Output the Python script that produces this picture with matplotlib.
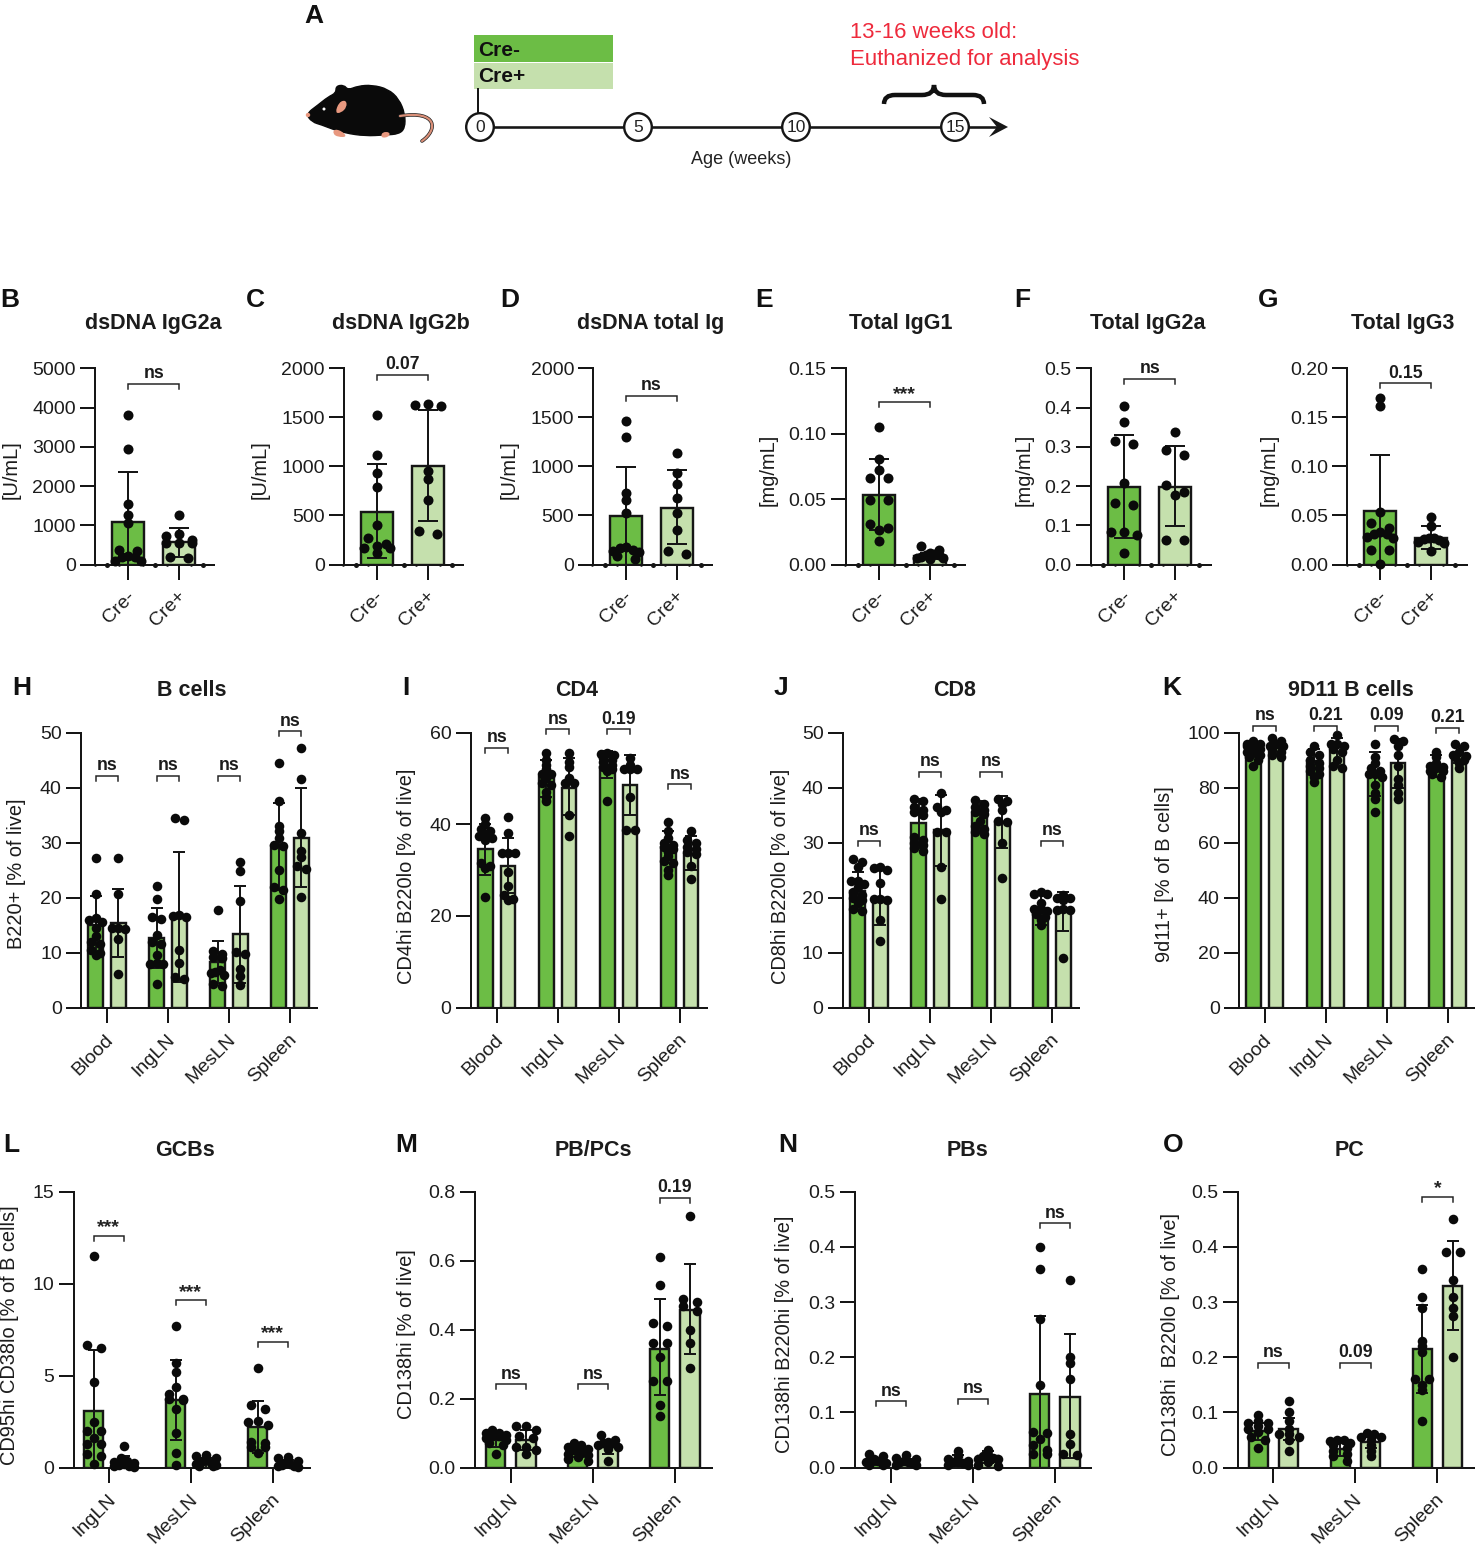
import matplotlib
matplotlib.use("Agg")
import matplotlib.pyplot as plt
from matplotlib.path import Path
from matplotlib.patches import PathPatch, Rectangle, Circle, Polygon
from matplotlib.transforms import ScaledTranslation

plt.rcParams['font.family'] = ['Liberation Sans', 'DejaVu Sans']
W, H = 1475, 1545
DARK, LIGHT, INK = '#6CBD45', '#C5E0AD', '#161616'

# ---------- data ----------
cre = ['Cre-', 'Cre+']
four = ['Blood', 'IngLN', 'MesLN', 'Spleen']
three = ['IngLN', 'MesLN', 'Spleen']

B_mean = [1080, 570]; B_hi = [2350, 930]; B_lo = [0, 200]
B_pts = [[3800, 2950, 1550, 1250, 1050, 380, 350, 210, 190, 180, 90, 80],
         [1250, 770, 720, 620, 540, 540, 540, 180, 170]]
C_mean = [540, 1000]; C_hi = [1020, 1570]; C_lo = [65, 440]
C_pts = [[1520, 1120, 930, 790, 400, 270, 210, 190, 170, 170, 120],
         [1640, 1630, 1620, 950, 870, 660, 340, 310]]
D_mean = [495, 580]; D_hi = [995, 960]; D_lo = [0, 210]
D_pts = [[1460, 1300, 730, 660, 530, 180, 170, 150, 140, 130, 90, 60],
         [1140, 930, 820, 680, 520, 350, 140, 110]]
E_mean = [.053, .0065]; E_hi = [.081, .009]; E_lo = [.026, .004]
E_pts = [[.105, .081, .072, .066, .066, .049, .049, .031, .028, .026, .018],
         [.014, .011, .009, .008, .007, .007, .006, .005, .005, .004]]
F_mean = [.198, .198]; F_hi = [.33, .302]; F_lo = [.067, .098]
F_pts = [[.405, .363, .316, .308, .207, .158, .152, .083, .083, .075, .03],
         [.338, .292, .279, .202, .186, .176, .062, .062]]
G_mean = [.055, .027]; G_hi = [.112, .039]; G_lo = [0, .016]
G_pts = [[.17, .162, .054, .042, .037, .033, .031, .031, .028, .027, .015, .015, .001],
         [.048, .039, .027, .027, .026, .025, .023, .022, .014]]

H_mean = [15, 15.4, 12.7, 16.4, 8.3, 13.3, 29.3, 30.9]
H_hi = [20.3, 21.6, 18.2, 28.3, 12.1, 22.2, 37.2, 40]
H_lo = [9.7, 9.3, 7.3, 4.6, 4.5, 4.4, 21.3, 21.9]
H_pts = [[27.2, 20.6, 16.3, 16, 15.5, 14.5, 13, 12, 11.5, 10.5, 10, 9.5],
         [27.2, 20.6, 14.5, 14.5, 14.3, 12.4, 6.2],
         [22.2, 19.8, 16.4, 16.1, 13.2, 12, 11.5, 9.5, 8.2, 8, 8, 4.3],
         [34.5, 34.1, 16.9, 16.6, 16.5, 10.4, 8.1, 5.5, 5.3],
         [17.7, 10.3, 9.8, 9.3, 9, 6.8, 6.5, 6.3, 6, 4.3, 4],
         [26.4, 24.9, 19.3, 10.2, 9.7, 7, 5.7, 4.1],
         [44.4, 37.6, 33, 32.1, 30.8, 29.6, 29.3, 25, 22, 21.3, 19.7],
         [47.1, 41.6, 31.8, 28.4, 27.4, 25.8, 25.2, 20.1]]
I_mean = [34.7, 31, 50.2, 48, 52.5, 48.5, 35, 33.5]
I_hi = [40, 37, 54, 54.5, 56, 55, 38.5, 37.5]
I_lo = [29, 25, 46, 42, 50, 42, 31.5, 30]
I_pts = [[41.3, 40, 39, 38.5, 37.8, 37.5, 37, 36.5, 31.5, 31, 30.5, 24.2],
         [41.5, 38, 33.8, 33.8, 33.8, 29.5, 26.6, 24.6, 23.8, 23.5],
         [55.5, 54, 53, 52, 51, 51, 50, 49, 48.5, 47, 46, 45],
         [55.5, 53.5, 52.5, 50, 49, 49, 42, 37.5],
         [55.5, 55.3, 55, 54.5, 54, 53.5, 53, 52.5, 52, 51.5, 45],
         [54.5, 53, 52, 52, 52, 46, 38.7, 38.7],
         [40.5, 38.5, 37, 36, 35.5, 35, 34.5, 34, 33, 32, 31.5, 30, 29],
         [38.5, 36.5, 36, 35, 34.5, 34, 33.5, 31, 28]]
J_mean = [21.2, 20, 33.6, 32.2, 35, 33.7, 18, 17.7]
J_hi = [24.7, 25, 38, 38.7, 37.5, 38.5, 20.8, 21]
J_lo = [17.5, 15, 29, 25.7, 32, 29, 15, 14]
J_pts = [[27, 26.5, 25.5, 23, 23, 22.5, 22, 21, 20.5, 20, 19.5, 19, 18, 17.5],
         [25.5, 25.3, 25, 22.7, 19.8, 19.7, 19.5, 16, 12.1],
         [38, 37.5, 36.5, 36, 35.5, 35, 31, 30.5, 30, 29.5, 29, 28.5],
         [39, 36.5, 36, 35.5, 32, 32, 25.5, 19.8],
         [37.8, 37, 36.5, 36, 35.5, 35.2, 34, 33, 32.5, 32, 31.5],
         [38, 37.5, 37, 36, 34, 33.7, 30, 23.5],
         [21, 20.7, 20.6, 19, 18, 18, 17.5, 17, 16.5, 16, 15],
         [20.5, 20, 20, 19.5, 18, 17.8, 17.7, 9]]
K_mean = [93.8, 94.8, 89.5, 93, 84.5, 89, 87.6, 92]
K_hi = [96, 97, 94, 98, 93, 97.5, 92, 95]
K_lo = [91, 92, 85, 88, 77, 80, 84, 89]
K_pts = [[97, 96, 96, 95, 95, 94, 93, 93, 92, 91, 90, 88],
         [98, 97, 96, 96, 95, 95, 94, 93, 92, 91],
         [95, 93, 92, 90, 89, 88, 87, 86, 85, 84, 82],
         [99, 96, 96, 95, 94, 93, 90, 88, 87],
         [96, 91, 89, 87, 86, 85, 85, 84, 81, 78, 76, 71],
         [97.5, 97, 95, 92, 88, 83, 81, 78, 76],
         [93, 91, 89, 88, 87.5, 87, 86, 86, 85, 84],
         [96, 95, 93, 92, 91.5, 91, 90, 89, 87]]

L_mean = [3.05, .25, 3.65, .25, 2.2, .2]
L_hi = [6.4, .65, 5.85, .5, 3.6, .4]
L_lo = [0, 0, 1.5, 0, .8, 0]
L_pts = [[11.5, 6.65, 6.5, 4.65, 2.45, 2, 2, 1.6, 1.3, 1.3, .75, .65, .2],
         [1.15, .5, .35, .3, .25, .2, .15, .1, .08, .05],
         [7.7, 5.7, 5.2, 4.4, 4, 3.75, 3.7, 3.65, 3.2, 1.9, .8, .15],
         [.7, .65, .5, .4, .3, .25, .2, .15, .1, .1],
         [5.4, 3.4, 3.2, 2.55, 2.5, 2.3, 1.4, 1.35, 1.1, 1.1, .8],
         [.55, .5, .35, .25, .2, .15, .1, .1, .05]]
M_mean = [.08, .08, .045, .06, .345, .457]
M_hi = [.1, .11, .06, .08, .49, .59]
M_lo = [.06, .05, .03, .04, .21, .33]
M_pts = [[.11, .1, .1, .095, .09, .09, .085, .08, .07, .065, .04],
         [.12, .12, .11, .09, .085, .06, .06, .05, .04],
         [.07, .065, .06, .055, .05, .05, .045, .04, .035, .03, .025, .02],
         [.095, .08, .075, .07, .07, .065, .06, .055, .02],
         [.61, .53, .42, .41, .36, .36, .32, .25, .25, .18, .15],
         [.73, .49, .48, .47, .455, .40, .36, .29]]
N_mean = [.01, .01, .012, .02, .133, .128]
N_hi = [.017, .016, .022, .03, .275, .243]
N_lo = [.004, .004, .003, .008, 0, .017]
N_pts = [[.025, .02, .015, .012, .01, .01, .01, .008, .005, .005],
         [.022, .018, .015, .012, .01, .01, .008, .005, .005],
         [.03, .02, .015, .012, .01, .01, .008, .005, .005],
         [.032, .022, .02, .018, .015, .015, .01, .005, .002],
         [.4, .36, .27, .15, .065, .062, .052, .04, .032, .025, .025],
         [.34, .2, .19, .16, .06, .043, .022, .024]]
O_mean = [.067, .07, .033, .047, .215, .33]
O_hi = [.08, .09, .047, .06, .295, .41]
O_lo = [.05, .05, .02, .035, .135, .25]
O_pts = [[.095, .085, .08, .08, .075, .07, .07, .065, .055, .05, .035],
         [.12, .1, .085, .07, .06, .06, .055, .05, .03],
         [.05, .05, .048, .045, .04, .035, .03, .025, .02, .012],
         [.062, .06, .056, .055, .05, .04, .03, .02],
         [.36, .31, .29, .23, .22, .21, .16, .16, .15, .14, .085],
         [.45, .39, .39, .34, .31, .29, .275, .2]]

edge_minor = [-.66, -.18, .29, .76, 1.23]
edge_major = [-.42, .52, 1.47]

fig = plt.figure(figsize=(W / 100, H / 100), dpi=100)
bg = fig.add_axes([0, 0, 1, 1], zorder=0)
bg.set_xlim(0, W); bg.set_ylim(H, 0); bg.axis('off')

PT = 0.72          # points per pixel
LW = 2.0 * PT


def swarm(vals, ppy, maxoff, binh):
    """Prism-style spread: values in one height bin fan out symmetrically (pixels)."""
    out, bin_vals = [], []

    def flush():
        n = len(bin_vals)
        if n == 1:
            offs = [0]
        elif n == 2:
            offs = [-.7 * maxoff, .7 * maxoff]
        else:
            step = 2 * maxoff / (n - 1)
            offs = [-maxoff + j * step for j in range(n)]
            offs = sorted(offs, key=abs)
        for o, v in zip(offs, bin_vals):
            out.append((o, v))

    for v in sorted(vals, reverse=True):
        if bin_vals and (bin_vals[0] - v) * ppy > binh:
            flush()
            bin_vals = []
        bin_vals.append(v)
    flush()
    return out


def yticks_fmt(t):
    strs = [('%g' % v) for v in t]
    dec = max((len(s.split('.')[1]) if '.' in s else 0) for s in strs)
    return ['%.*f' % (dec, v) for v in t]


def panel(L, R, y0, ytop, c0, gap, half, bw, cats, means, his, los, pts, ymax, yticks,
          sig, sig_y, edge=False, maxoff=12, binh=6.5, capw=16, dot=9.0):
    ax = fig.add_axes([L / W, 1 - y0 / H, (R - L) / W, (y0 - ytop) / H], zorder=2)
    ax.patch.set_alpha(0)
    ax.set_xlim((L - c0) / gap, (R - c0) / gap)
    ax.set_ylim(0, ymax)
    ppy = (y0 - ytop) / ymax
    for s in ('top', 'right'):
        ax.spines[s].set_visible(False)
    for s in ('left', 'bottom'):
        ax.spines[s].set_linewidth(LW); ax.spines[s].set_color(INK); ax.spines[s].set_zorder(2.2)
    ax.set_yticks(yticks); ax.set_yticklabels(yticks_fmt(yticks), fontsize=14, color='#1c1c1c')
    ax.tick_params(axis='y', length=15 * PT, width=LW, color=INK, pad=3)
    ax.set_xticks(range(len(cats)))
    ax.set_xticklabels(cats, fontsize=14, rotation=45, ha='right', rotation_mode='anchor', color='#1c1c1c')
    ax.tick_params(axis='x', length=15 * PT, width=LW, color=INK, pad=6)
    shift = ScaledTranslation(-2 / 100, 0, fig.dpi_scale_trans)
    for lab in ax.get_xticklabels():
        lab.set_transform(lab.get_transform() + shift)
    for i, (m, hi, lo, p) in enumerate(zip(means, his, los, pts)):
        if half:
            g, k = divmod(i, 2)
            x = g + (k - .5) * 2 * half / gap
        else:
            k = i
            x = float(i)
        ax.bar(x, m, bw / gap, color=DARK if k == 0 else LIGHT, edgecolor=INK, linewidth=2.4 * PT, zorder=2)
        ax.errorbar(x, m, yerr=[[m - lo], [hi - m]], color=INK, lw=LW, capsize=capw / 2 * PT,
                    capthick=LW, zorder=3, clip_on=False)
        sw = swarm(p, ppy, maxoff, binh)
        ax.scatter([x + a / gap for a, _ in sw], [b for _, b in sw], s=(dot * PT) ** 2, color='#0a0a0a',
                   linewidths=0, zorder=4, clip_on=False)
    for g, (t, ys) in enumerate(zip(sig, sig_y)):
        if half:
            x1, x2 = g - half / gap, g + half / gap
        else:
            x1, x2 = 0, 1
        drop = 5 / ppy
        ax.plot([x1, x1, x2, x2], [ys - drop, ys, ys, ys - drop], color='#222222', lw=1.5 * PT,
                clip_on=False, zorder=5, solid_joinstyle='miter')
        if t.startswith('*'):
            ax.text((x1 + x2) / 2, ys + 8 / ppy, t, ha='center', va='center', fontsize=14,
                    fontweight='bold', color='#222222', clip_on=False)
        else:
            ax.text((x1 + x2) / 2, ys + 1.5 / ppy, t, ha='center', va='bottom', fontsize=12.7,
                    fontweight='bold', color='#1c1c1c', clip_on=False)
    if edge:
        ax.scatter(edge_minor, [0] * len(edge_minor), s=(2.6 * PT) ** 2, color=INK, linewidths=0, clip_on=False, zorder=2.3)
        ax.scatter(edge_major, [0] * len(edge_major), s=(5 * PT) ** 2, color=INK, linewidths=0, clip_on=False, zorder=2.3)
    return ax


# ---- top row
top = dict(y0=564.5, ytop=368.3, gap=51, half=0, bw=32, cats=cre, edge=True, maxoff=13, binh=6.5, capw=20, dot=10)
panel(95, 214, c0=128.3, means=B_mean, his=B_hi, los=B_lo, pts=B_pts, ymax=5000, yticks=[0, 1000, 2000, 3000, 4000, 5000], sig=['ns'], sig_y=[4600], **top)
panel(344, 463, c0=377, means=C_mean, his=C_hi, los=C_lo, pts=C_pts, ymax=2000, yticks=[0, 500, 1000, 1500, 2000], sig=['0.07'], sig_y=[1935], **top)
panel(593.3, 712, c0=626, means=D_mean, his=D_hi, los=D_lo, pts=D_pts, ymax=2000, yticks=[0, 500, 1000, 1500, 2000], sig=['ns'], sig_y=[1721], **top)
panel(845.7, 965, c0=879, means=E_mean, his=E_hi, los=E_lo, pts=E_pts, ymax=.15, yticks=[0, .05, .10, .15], sig=['***'], sig_y=[.124], **top)
panel(1090.7, 1210.7, c0=1124.3, means=F_mean, his=F_hi, los=F_lo, pts=F_pts, ymax=.5, yticks=[0, .1, .2, .3, .4, .5], sig=['ns'], sig_y=[.474], **top)
panel(1347, 1466.7, c0=1380.3, means=G_mean, his=G_hi, los=G_lo, pts=G_pts, ymax=.2, yticks=[0, .05, .10, .15, .20], sig=['0.15'], sig_y=[.185], **top)

# ---- middle row
mid = dict(y0=1007.7, ytop=732.5, gap=61, half=11.4, bw=14.5, cats=four, maxoff=6.5, binh=4.5, capw=12, dot=9.6)
panel(81, 317, c0=107, means=H_mean, his=H_hi, los=H_lo, pts=H_pts, ymax=50, yticks=[0, 10, 20, 30, 40, 50], sig=['ns', 'ns', 'ns', 'ns'], sig_y=[42.1, 42.1, 42.1, 50.2], **mid)
panel(470.7, 707, c0=496.7, means=I_mean, his=I_hi, los=I_lo, pts=I_pts, ymax=60, yticks=[0, 20, 40, 60], sig=['ns', 'ns', '0.19', 'ns'], sig_y=[56.7, 60.7, 60.7, 48.7], **mid)
panel(842.7, 1079, c0=869, means=J_mean, his=J_hi, los=J_lo, pts=J_pts, ymax=50, yticks=[0, 10, 20, 30, 40, 50], sig=['ns', 'ns', 'ns', 'ns'], sig_y=[30.3, 42.9, 42.9, 30.3], **mid)
panel(1239, 1475, c0=1264.7, means=K_mean, his=K_hi, los=K_lo, pts=K_pts, ymax=100, yticks=[0, 20, 40, 60, 80, 100], sig=['ns', '0.21', '0.09', '0.21'], sig_y=[102.5, 102.5, 102.4, 101.7], **mid)

# ---- bottom row
bot = dict(y0=1467.5, ytop=1191.8, gap=82, half=15.1, bw=19.5, cats=three, maxoff=10, binh=5.5, capw=12, dot=9.6)
panel(73.5, 310, c0=108.8, means=L_mean, his=L_hi, los=L_lo, pts=L_pts, ymax=15, yticks=[0, 5, 10, 15], sig=['***', '***', '***'], sig_y=[12.6, 9.1, 6.85], **bot)
panel(475, 712, c0=510.8, means=M_mean, his=M_hi, los=M_lo, pts=M_pts, ymax=.8, yticks=[0, .2, .4, .6, .8], sig=['ns', 'ns', '0.19'], sig_y=[.242, .242, .783], **bot)
panel(855, 1091, c0=890.8, means=N_mean, his=N_hi, los=N_lo, pts=N_pts, ymax=.5, yticks=[0, .1, .2, .3, .4, .5], sig=['ns', 'ns', 'ns'], sig_y=[.12, .125, .443], **bot)
panel(1237.7, 1475, c0=1273.4, means=O_mean, his=O_hi, los=O_lo, pts=O_pts, ymax=.5, yticks=[0, .1, .2, .3, .4, .5], sig=['ns', '0.09', '*'], sig_y=[.19, .19, .491], **bot)

# ---------- titles, y labels, letters ----------
titles = [('dsDNA IgG2a', 153, 323), ('dsDNA IgG2b', 401, 323), ('dsDNA total Ig', 651, 323), ('Total IgG1', 901, 323),
          ('Total IgG2a', 1148, 323), ('Total IgG3', 1403, 323), ('B cells', 192, 690), ('CD4', 577, 690),
          ('CD8', 955, 690), ('9D11 B cells', 1351, 690), ('GCBs', 185, 1150), ('PB/PCs', 593, 1150),
          ('PBs', 967, 1150), ('PC', 1349, 1150)]
for t, x, y in titles:
    bg.text(x, y, t, ha='center', va='center', fontsize=15.5, fontweight='bold', color='#1c1c1c')

ylabels = [('[U/mL]', 11, 470), ('[U/mL]', 260, 470), ('[U/mL]', 509, 470), ('[mg/mL]', 768, 470), ('[mg/mL]', 1024, 470),
           ('[mg/mL]', 1269, 470), ('B220+ [% of live]', 17, 874), ('CD4hi B220lo [% of live]', 407, 876),
           ('CD8hi B220lo [% of live]', 780, 876), ('9d11+ [% of B cells]', 1165, 874),
           ('CD95hi CD38lo [% of B cells]', 10, 1335), ('CD138hi [% of live]', 407, 1334),
           ('CD138hi B220hi [% of live]', 785, 1334), ('CD138hi  B220lo [% of live]', 1170, 1334)]
for t, x, y in ylabels:
    bg.text(x, y, t, ha='center', va='center', rotation=90, fontsize=14.4, color='#1c1c1c')

letters = [('A', 314, 16), ('B', 10, 300), ('C', 255, 300), ('D', 510, 300), ('E', 764, 300), ('F', 1022, 300),
           ('G', 1268, 300), ('H', 22, 688), ('I', 406, 688), ('J', 781, 688), ('K', 1172, 688), ('L', 11, 1145),
           ('M', 406, 1145), ('N', 788, 1145), ('O', 1173, 1145)]
for t, x, y in letters:
    bg.text(x, y, t, ha='center', va='center', fontsize=19, fontweight='bold', color='#111111')

# ---------- panel A schematic ----------
bg.add_patch(Rectangle((474, 35), 139, 27, color=DARK, lw=0))
bg.add_patch(Rectangle((474, 63), 139, 26, color=LIGHT, lw=0))
bg.text(478, 50, 'Cre-', fontsize=15, fontweight='bold', va='center', color='#111111')
bg.text(478, 76, 'Cre+', fontsize=15, fontweight='bold', va='center', color='#111111')
bg.plot([478, 478], [89, 115], color=INK, lw=LW)
bg.plot([480, 1000], [127, 127], color=INK, lw=2.6 * PT)
bg.add_patch(Polygon([[989, 117], [1008, 127], [989, 137], [997, 127]], color=INK, lw=0))
for x, t in zip([480, 638, 796, 955], ['0', '5', '10', '15']):
    bg.add_patch(Circle((x, 127), 13.8, fc='white', ec=INK, lw=2.4 * PT, zorder=3))
    bg.text(x, 128, t, ha='center', va='center', fontsize=12.5, color='#222222', zorder=4)
bg.text(741, 159, 'Age (weeks)', ha='center', va='center', fontsize=13, color='#222222')
bg.text(850, 33, '13-16 weeks old:', ha='left', va='center', fontsize=15.9, color='#EE2A3C')
bg.text(850, 60, 'Euthanized for analysis', ha='left', va='center', fontsize=15.9, color='#EE2A3C')
brace = Path([(884, 104), (884, 95), (895, 95), (922, 95), (934, 95), (934, 85), (934, 95), (946, 95), (973, 95), (984, 95), (984, 104)],
             [Path.MOVETO, Path.CURVE3, Path.CURVE3, Path.LINETO, Path.CURVE3, Path.CURVE3, Path.CURVE3, Path.CURVE3,
              Path.LINETO, Path.CURVE3, Path.CURVE3])
bg.add_patch(PathPatch(brace, fc='none', ec='#111111', lw=4.5 * PT, capstyle='butt'))


def smooth(points):
    verts = [((points[-1][0] + points[0][0]) / 2, (points[-1][1] + points[0][1]) / 2)]
    codes = [Path.MOVETO]
    for i, p in enumerate(points):
        q = points[(i + 1) % len(points)]
        verts += [p, ((p[0] + q[0]) / 2, (p[1] + q[1]) / 2)]
        codes += [Path.CURVE3, Path.CURVE3]
    return Path(verts, codes)


body = [(306, 114), (318, 105), (328, 97), (336, 93), (336, 86), (344, 85), (348, 90), (358, 86), (372, 85), (388, 89),
        (399, 99), (405, 114), (405, 128), (399, 134), (385, 135), (365, 136), (345, 133), (332, 129), (322, 125), (312, 122)]
bg.add_patch(PathPatch(smooth(body), fc='#0a0a0a', ec='#0a0a0a', lw=1))
bg.add_patch(PathPatch(smooth([(335, 113), (339, 102), (346, 100), (347, 107), (341, 113)]), fc='#E8987F', lw=0))
bg.add_patch(Circle((324, 109), 1.5, fc='white', lw=0))
bg.add_patch(Circle((308, 115), 2.2, fc='#E8987F', lw=0))
tail = Path([(400, 116), (438, 110), (438, 130), (422, 141)], [Path.MOVETO, Path.CURVE4, Path.CURVE4, Path.CURVE4])
bg.add_patch(PathPatch(tail, fc='none', ec='#222222', lw=3.6 * PT, capstyle='round'))
bg.add_patch(PathPatch(tail, fc='none', ec='#D98F78', lw=2.2 * PT, capstyle='round'))
bg.add_patch(PathPatch(smooth([(334, 129), (342, 131), (347, 137), (338, 137), (333, 134)]), fc='#E8987F', lw=0))
bg.add_patch(PathPatch(smooth([(382, 132), (390, 132), (389, 137), (381, 138)]), fc='#E8987F', lw=0))

fig.savefig('out.png', dpi=100)
